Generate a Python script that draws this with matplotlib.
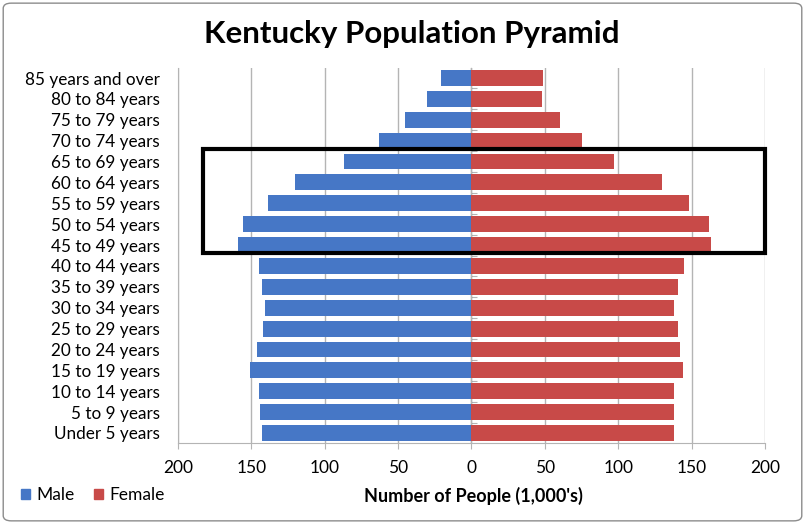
import matplotlib.pyplot as plt
import matplotlib.patches as patches
from matplotlib import rcParams

rcParams['font.family'] = ['Lato', 'DejaVu Sans']
rcParams['text.color'] = 'black'

# Age groups, bottom to top
ages = ['Under 5 years', '5 to 9 years', '10 to 14 years', '15 to 19 years',
        '20 to 24 years', '25 to 29 years', '30 to 34 years', '35 to 39 years',
        '40 to 44 years', '45 to 49 years', '50 to 54 years', '55 to 59 years',
        '60 to 64 years', '65 to 69 years', '70 to 74 years', '75 to 79 years',
        '80 to 84 years', '85 years and over']

# Population in thousands
male = [143, 144, 145, 151, 146, 142, 141, 143, 145,
        159, 156, 139, 120, 87, 63, 45, 30, 21]
female = [138, 138, 138, 144, 142, 141, 138, 141, 145,
          163, 162, 148, 130, 97, 75, 60, 48, 49]

xticks = [-200, -150, -100, -50, 0, 50, 100, 150, 200]

# Age bracket highlighted by the box
box_first, box_last = '45 to 49 years', '65 to 69 years'

BLUE = '#4677c6'
RED = '#c84a48'
GRID = '#b4b4b4'

fig = plt.figure(figsize=(8.05, 5.24), dpi=100)
ax = fig.add_axes([0.2211, 0.1546, 0.7292, 0.7156])

pos = list(range(len(ages)))
ax.barh(pos, [-m for m in male], height=0.76, color=BLUE, zorder=2)
ax.barh(pos, female, height=0.76, color=RED, zorder=2)

ax.set_xlim(-200, 200)
ax.set_ylim(-0.48, len(ages) - 0.52)
ax.set_xticks(xticks, labels=[str(abs(t)) for t in xticks], fontsize=12.5)
ax.set_yticks(pos, labels=ages, fontsize=12.3)
ax.tick_params(axis='y', length=0, pad=13)
ax.tick_params(axis='x', length=4, color=GRID, pad=8)
ax.grid(axis='x', color=GRID, linewidth=1, zorder=0)

for side in ['top', 'right']:
    ax.spines[side].set_visible(False)
for side in ['left', 'bottom']:
    ax.spines[side].set_color(GRID)

# Category tick marks along the zero line
mid = ax.secondary_yaxis(0.5)
mid.set_yticks([p - 0.5 for p in pos] + [len(ages) - 0.5], labels=[])
mid.tick_params(length=4, color=GRID)
mid.spines['left'].set_visible(False)

ax.set_xlabel("Number of People (1,000's)", fontsize=13, fontweight='bold')
ax.xaxis.set_label_coords(0.503, -0.117)

fig.text(0.512, 0.935, 'Kentucky Population Pyramid', ha='center',
         va='center', fontsize=22.5, fontweight='bold')

# Highlight box around the 45-69 age groups
lo = ages.index(box_first) - 0.4
hi = ages.index(box_last) + 0.6
ax.add_patch(patches.Rectangle((-183, lo), 383, hi - lo, fill=False,
                               edgecolor='black', linewidth=3, zorder=5,
                               clip_on=False))

# Legend in the bottom-left corner
handles = [patches.Patch(color=BLUE, label='Male'),
           patches.Patch(color=RED, label='Female')]
fig.legend(handles=handles, loc='center left', bbox_to_anchor=(0.015, 0.055),
           ncol=2, frameon=False, fontsize=12.5, handlelength=0.55,
           handleheight=0.55, handletextpad=0.35, columnspacing=1.1,
           borderpad=0)

# Outer chart frame
fig.add_artist(patches.FancyBboxPatch((0.004, 0.006), 0.992, 0.988,
                                      boxstyle='round,pad=0,rounding_size=0.01',
                                      transform=fig.transFigure, fill=False,
                                      edgecolor='#8c8c8c', linewidth=1))

fig.savefig('out.png', dpi=100)
